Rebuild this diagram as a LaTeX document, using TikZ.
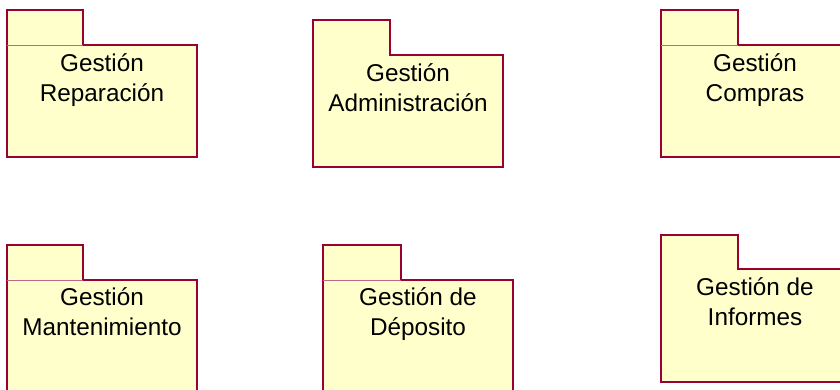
\documentclass[tikz,border=0pt]{standalone}
\usepackage{fontspec}
\setmainfont{Liberation Sans}
\definecolor{pkgline}{RGB}{153,0,51}
\definecolor{pkgfill}{RGB}{255,255,204}
\newcommand\pkgbox[7]{% left, tabright, tabtop, bodytop, right, bottom, divider(1/0)
  \fill[pkgfill] (#1,#3) -- (#2,#3) -- (#2,#4) -- (#5,#4) -- (#5,#6) -- (#1,#6) -- cycle;
  \draw[pkgedge] (#1,#4) -- (#1,#3) -- (#2,#3) -- (#2,#4) -- (#5,#4) -- (#5,#6) -- (#1,#6) -- cycle;
  \ifnum#7=1 \draw[pkgdiv] (#1,#4) -- (#2,#4);\fi
}
\begin{document}
\begin{tikzpicture}[x=1pt,y=-1pt,
  pkgedge/.style={draw=pkgline,line width=1.1pt,line join=miter},
  pkgdiv/.style={draw=pkgline!60,line width=0.9pt},
  pkgtext/.style={align=center,inner sep=0pt,anchor=base,
    font=\fontsize{24.3}{30}\selectfont}]
\useasboundingbox (0,0) rectangle (840,390);
\pkgbox{7}{83}{10}{45}{197}{157}{1}
\pkgbox{313}{390}{20}{55}{503}{167}{0}
\pkgbox{661}{738}{10}{45}{849}{157}{1}
\pkgbox{7}{83}{245}{280}{197}{400}{1}
\pkgbox{323}{401}{245}{280}{513}{400}{1}
\pkgbox{661}{738}{235}{269}{849}{382}{0}
\node[pkgtext] (t1) at (102,102) {Gestión\\Reparación};
\node[pkgtext] (t2) at (408,112) {Gestión\\Administración};
\node[pkgtext] (t3) at (755,102) {Gestión\\Compras};
\node[pkgtext] (t4) at (102,335) {Gestión\\Mantenimiento};
\node[pkgtext] (t5) at (418,335) {Gestión de\\Déposito};
\node[pkgtext] (t6) at (755,325) {Gestión de\\Informes};
\end{tikzpicture}
\end{document}
